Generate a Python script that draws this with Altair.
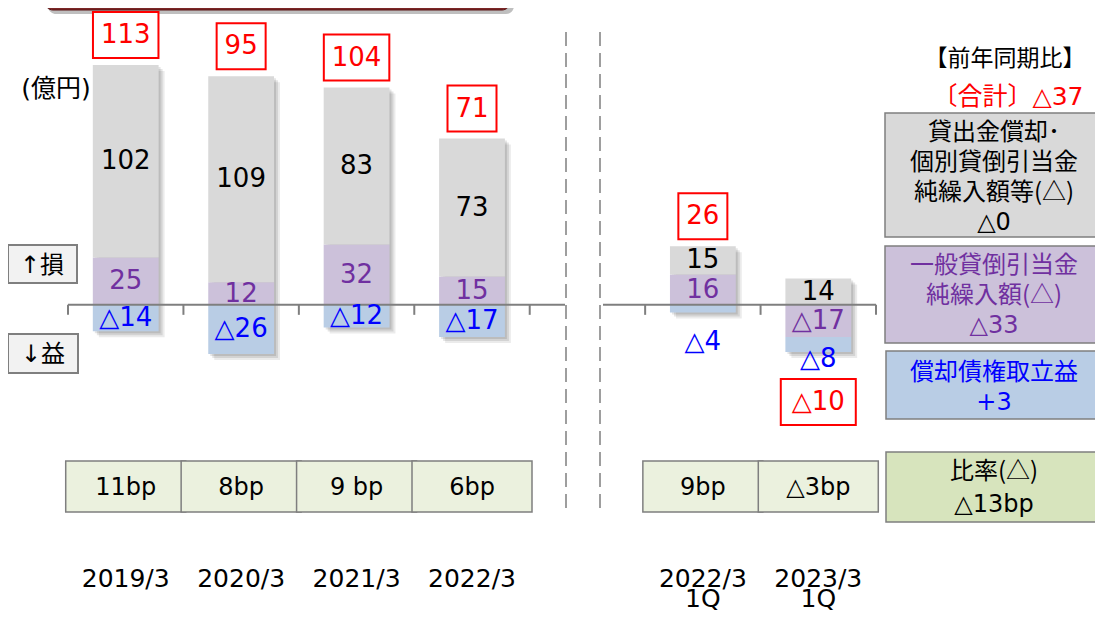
import re
import altair as alt
import pandas as pd

# ---------------- data (億円) ----------------
categories = ["2019/3", "2020/3", "2021/3", "2022/3", "2022/3|1Q", "2023/3|1Q"]
writeoff = [102, 109, 83, 73, 15, 14]            # 貸出金償却・個別貸倒引当金純繰入額等 (gray)
general_prov = [25, 12, 32, 15, 16, -17]         # 一般貸倒引当金純繰入額 (purple)
recoveries = [-14, -26, -12, -17, -4, -8]        # 償却債権取立益 (blue)
totals = [113, 95, 104, 71, 26, -10]
ratio_labels = ["11bp", "8bp", "9 bp", "6bp", "9bp", "△3bp"]

legend_title = "【前年同期比】"
legend_total = "〔合計〕△37"
legend_writeoff = ["貸出金償却･", "個別貸倒引当金", "純繰入額等(△)", "△0"]
legend_general = ["一般貸倒引当金", "純繰入額(△)", "△33"]
legend_recover = ["償却債権取立益", "+3"]
legend_ratio = ["比率(△)", "△13bp"]
unit_label = "(億円)"
loss_label = "↑損"
gain_label = "↓益"

# ---------------- layout / style ----------------
W, H = 808, 529
YMIN, YMAX = -125, 155
K = H / (YMAX - YMIN)          # px per unit
STEP = W / 7
GAP = "gap"
xdomain = categories[:4] + [GAP] + categories[4:]

NUM_FONT = "'DejaVu Sans', 'Noto Sans CJK JP'"
JP_FONT = "'Noto Sans CJK JP'"
GRAY, PURPLE, BLUE = "#d9d9d9", "#ccc1da", "#b9cde5"
seg_fill = {"gray": GRAY, "purple": PURPLE, "blue": BLUE}
seg_text = {"gray": "#000000", "purple": "#7030a0", "blue": "#0000ff"}
RED = "#ff0000"
EDGE = "#7f7f7f"
label_nudge_px = {"2022/3|1Q": 30, "2023/3|1Q": 7}   # small blue labels drawn below the bar


def fmt(v):
    return f"△{abs(v)}" if v < 0 else str(v)


xscale = alt.Scale(domain=xdomain, paddingInner=0.43, paddingOuter=0.215)
yscale = alt.Scale(domain=[YMIN, YMAX], nice=False, zero=False)
xaxis = alt.Axis(
    title=None, labelAngle=0, ticks=False, tickSize=0, domain=False, grid=False,
    labelFont=NUM_FONT, labelFontSize=25, labelColor="#000000",
    labelPadding=25, labelLineHeight=20, labelBaseline="top", labelOverlap=False,
    labelExpr=f"datum.value == '{GAP}' ? '' : split(datum.value, '|')",
)


def X():
    return alt.X("cat:N", scale=xscale, axis=xaxis, sort=xdomain)


def Y(f):
    return alt.Y(f"{f}:Q", scale=yscale, axis=None)


def Y2(f):
    return alt.Y2(f"{f}:Q")


# ---------------- stacked segments ----------------
rows, stack_rows = [], []
for i, c in enumerate(categories):
    pos, neg = 0.0, 0.0
    for seg, v in (("purple", general_prov[i]), ("gray", writeoff[i]), ("blue", recoveries[i])):
        if v >= 0:
            lo, hi = pos, pos + v
            pos = hi
        else:
            lo, hi = neg + v, neg
            neg = lo
        ly = (lo + hi) / 2
        if seg == "blue" and abs(v) < 10 and c in label_nudge_px:
            ly = lo - label_nudge_px[c] / K
        rows.append(dict(cat=c, seg=seg, lo=lo, hi=hi, ly=ly, label=fmt(v),
                         segfill=seg_fill[seg], tcolor=seg_text[seg]))
    t = totals[i]
    yc = pos + 30 / K if t >= 0 else neg - 50 / K
    ndig = len(str(abs(t)))
    w = 16 + 16.5 * ndig + (26 if t < 0 else 0)
    stack_rows.append(dict(cat=c, top=pos, bottom=neg, yc=yc, total=fmt(t), w=w))

seg_df = pd.DataFrame(rows)
stack_df = pd.DataFrame(stack_rows)

layers = []
one = pd.DataFrame({"a": [0]})

# banner at the top (cut off)
layers.append(alt.Chart(one).mark_rect(fill="#000000", opacity=0.25, cornerRadius=8).encode(
    x=alt.value(-20), x2=alt.value(446), y=alt.value(-30), y2=alt.value(2)))
layers.append(alt.Chart(one).mark_rect(fill="#7b2727", stroke="#5a1414", strokeWidth=1, cornerRadius=8).encode(
    x=alt.value(-23), x2=alt.value(442), y=alt.value(-30), y2=alt.value(-2)))

# dashed separators
for xv in (498, 532):
    layers.append(alt.Chart(one).mark_rule(color=EDGE, strokeWidth=1.5, strokeDash=[14, 7]).encode(
        x=alt.value(xv), y=alt.value(20), y2=alt.value(498)))

# bar shadows
for off, op in ((2, 0.10), (4, 0.10), (6, 0.08)):
    layers.append(alt.Chart(stack_df).mark_bar(color="#000000", opacity=op, xOffset=off,
                                               yOffset=off, y2Offset=off).encode(
        x=X(), y=Y("top"), y2=Y2("bottom")))

# stacked bars
layers.append(alt.Chart(seg_df).mark_bar().encode(
    x=X(), y=Y("hi"), y2=Y2("lo"), color=alt.Color("segfill:N", scale=None)))

# zero line (two pieces) and ticks
zero_df = pd.DataFrame({"z": [0.0], "z2": [-10 / K]})
layers.append(alt.Chart(zero_df).mark_rule(color=EDGE, strokeWidth=2).encode(
    x=alt.value(0), x2=alt.value(497), y=Y("z")))
layers.append(alt.Chart(zero_df).mark_rule(color=EDGE, strokeWidth=2).encode(
    x=alt.value(535), x2=alt.value(W), y=Y("z")))
tick_df = pd.DataFrame({"cat": xdomain, "z": 0.0, "z2": -10 / K})
layers.append(alt.Chart(tick_df).mark_rule(color=EDGE, strokeWidth=2, xOffset=-STEP / 2).encode(
    x=X(), y=Y("z"), y2=Y2("z2")))
layers.append(alt.Chart(tick_df[tick_df["cat"] == categories[-1]]).mark_rule(
    color=EDGE, strokeWidth=2, xOffset=STEP / 2).encode(
    x=X(), y=Y("z"), y2=Y2("z2")))

# segment labels
layers.append(alt.Chart(seg_df).mark_text(font=NUM_FONT, fontSize=26, baseline="middle").encode(
    x=X(), y=Y("ly"), text="label:N", color=alt.Color("tcolor:N", scale=None)))

# total boxes
for _, r in stack_df.iterrows():
    d = stack_df[stack_df["cat"] == r["cat"]]
    layers.append(alt.Chart(d).mark_bar(width=float(r["w"]), fill="#ffffff", stroke=RED, strokeWidth=2,
                                        yOffset=-23, y2Offset=23).encode(
        x=X(), y=Y("yc"), y2=Y2("yc")))
layers.append(alt.Chart(stack_df).mark_text(font=NUM_FONT, fontSize=26, color=RED, baseline="middle").encode(
    x=X(), y=Y("yc"), text="total:N"))

# ratio table
tbl_df = pd.DataFrame({"cat": categories, "bp": ratio_labels})
layers.append(alt.Chart(tbl_df).mark_bar(width=120, fill="#ebf1de", stroke=EDGE, strokeWidth=1.5).encode(
    x=X(), y=alt.value(449), y2=alt.value(500)))
layers.append(alt.Chart(tbl_df).mark_text(font=NUM_FONT, fontSize=24, color="#000000", baseline="middle").encode(
    x=X(), y=alt.value(476), text="bp:N"))


# legend boxes on the right
def box(x1, x2, y1, y2, fill, sw=1.5):
    return alt.Chart(one).mark_rect(fill=fill, stroke=EDGE, strokeWidth=sw).encode(
        x=alt.value(x1), x2=alt.value(x2), y=alt.value(y1), y2=alt.value(y2))


CJK = re.compile(r"[\u3000-\u9fff\uff00-\uffef]")


def text_line(txt, x, y, color, size=24, font=None):
    if font is None:
        font = JP_FONT if CJK.search(txt) else NUM_FONT
    return alt.Chart(pd.DataFrame({"t": [txt]})).mark_text(
        font=font, fontSize=size, color=color, align="center", baseline="alphabetic").encode(
        x=alt.value(x), y=alt.value(y), text="t:N")


def lines(txts, x, y0, color, lh=30, size=24):
    return [text_line(t, x, y0 + i * lh, color, size=size) for i, t in enumerate(txts)]


layers.append(box(817, 1040, 101, 225, GRAY))
layers.append(box(817, 1040, 234, 331, PURPLE))
layers.append(box(818, 1040, 339, 407, BLUE))
layers.append(box(818, 1040, 440, 510, "#d7e4bd"))
layers += lines(legend_writeoff, 926, 128, "#000000", lh=30)
layers += lines(legend_general, 926, 261, "#7030a0", lh=30)
layers += lines(legend_recover, 926, 368, "#0000ff", lh=30)
layers += lines(legend_ratio, 926, 467, "#000000", lh=33)
layers.append(text_line(legend_title, 937, 54, "#000000", size=23))
layers.append(text_line(legend_total, 940, 93, RED, size=25, font=NUM_FONT))

# left annotations
layers.append(text_line(unit_label, -12, 85, "#000000", size=25, font=NUM_FONT))
layers.append(box(-60, 9, 233, 271, "#f2f2f2", sw=2))
layers.append(box(-60, 10, 322, 361, "#f2f2f2", sw=2))
layers.append(text_line(loss_label, -26, 261, "#000000", size=24, font=NUM_FONT))
layers.append(text_line(gain_label, -25, 350, "#000000", size=24, font=NUM_FONT))

chart = alt.layer(*layers).properties(
    width=W, height=H,
    padding={"left": 60, "top": 4, "right": 219, "bottom": 71},
    autosize=alt.AutoSizeParams(type="none"),
).configure_view(stroke=None)

chart.save("out.html", embed_options={"renderer": "svg", "actions": False})
